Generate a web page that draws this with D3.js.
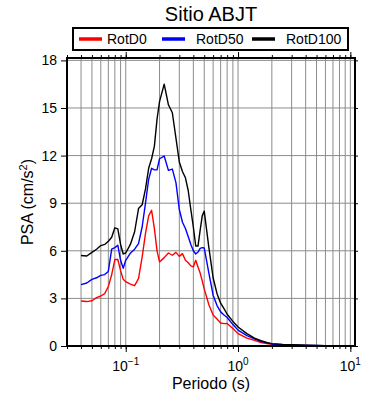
<!DOCTYPE html>
<html>
<head>
<meta charset="utf-8">
<script src="https://cdn.jsdelivr.net/npm/d3@7"></script>
<style>
body { margin: 0; background: #fff; }
text { font-family: "Liberation Sans", Arial, Helvetica, sans-serif; }
</style>
</head>
<body>
<div class="psa-chart"></div>
<script>
// periods (s)
const periods = [0.04, 0.045, 0.05, 0.055, 0.06, 0.065, 0.07, 0.075, 0.08, 0.085, 0.09, 0.095,
    0.1, 0.11, 0.12, 0.13, 0.14, 0.15, 0.16, 0.17, 0.18, 0.19, 0.2, 0.22, 0.24, 0.26, 0.28,
    0.3, 0.32, 0.34, 0.36, 0.38, 0.4, 0.42, 0.44, 0.46, 0.48, 0.5, 0.55, 0.6, 0.65, 0.7,
    0.75, 0.8, 0.9, 1.0, 1.2, 1.4, 1.6, 1.8, 2, 2.5, 3, 4, 5, 6, 7, 8, 10];

const rotD0 = [2.84, 2.8, 2.85, 3.05, 3.15, 3.3, 3.75, 4.5, 5.45, 5.45, 4.75, 4.2,
    4.05, 3.9, 3.8, 4.25, 5.6, 7.1, 8.2, 8.55, 7.4, 6.0, 5.3, 5.57, 5.86, 5.72, 5.9,
    5.65, 5.82, 5.4, 5.25, 5.05, 4.98, 5.4, 4.98, 4.6, 4.1, 3.6, 2.6, 1.95, 1.7, 1.45,
    1.41, 1.42, 1.1, 0.78, 0.5, 0.35, 0.22, 0.15, 0.1, 0.07, 0.05, 0.035, 0.025, 0.02, 0.015, 0.01, 0.007];

const rotD50 = [3.87, 3.97, 4.2, 4.3, 4.45, 4.5, 4.7, 6.1, 6.2, 6.35, 5.4, 4.9,
    5.4, 5.85, 6.1, 6.45, 7.5, 9.0, 10.5, 11.2, 11.1, 11.1, 11.8, 11.97, 11.07, 11.15, 10.3,
    8.6, 7.8, 7.4, 6.9, 6.4, 6.0, 5.8, 5.92, 6.15, 6.2, 6.18, 4.6, 3.2, 2.55, 2.15,
    1.95, 1.8, 1.35, 1.0, 0.65, 0.45, 0.3, 0.2, 0.13, 0.08, 0.06, 0.04, 0.03, 0.02, 0.015, 0.012, 0.008];

const rotD100 = [5.7, 5.67, 5.9, 6.1, 6.33, 6.4, 6.6, 6.85, 7.45, 7.38, 6.4, 5.8,
    5.86, 6.4, 7.2, 8.66, 8.9, 9.9, 11.2, 11.8, 12.6, 14.3, 15.4, 16.5, 15.2, 14.7, 13.1,
    11.6, 11.0, 10.6, 9.8, 8.6, 7.5, 6.3, 6.3, 7.3, 8.2, 8.5, 6.2, 4.3, 3.3, 2.7,
    2.35, 2.0, 1.55, 1.2, 0.78, 0.5, 0.33, 0.22, 0.15, 0.1, 0.08, 0.05, 0.035, 0.025, 0.02, 0.015, 0.01];

const seriesNames = ["RotD0", "RotD50", "RotD100"];
const seriesColors = ["#ff0000", "#0000ff", "#000000"];
const yTicks = [0, 3, 6, 9, 12, 15, 18];
const xMajor = [0.1, 1, 10];
const xMajorExp = ["\u22121", "0", "1"];

function main(){
    const margin = {top: 58, right: 35, bottom: 54, left: 67};
    const width = 390 - margin.left - margin.right;
    const height = 400 - margin.top - margin.bottom;

    const root = d3.select(".psa-chart")
                    .append("svg")
                    .attr("width", 390)
                    .attr("height", 400);
    const svg = root.append("g")
                    .attr("transform", "translate(" + margin.left + "," + margin.top + ")");

    let xScale = d3.scaleLog()
                    .domain([0.03, 11])
                    .range([0, width]);
    let yScale = d3.scaleLinear()
                    .domain([0, 18.15])
                    .range([height, 0]);

    // minor log ticks 2..9 in each decade, inside the domain
    const xMinor = [];
    [0.01, 0.1, 1, 10].forEach(dec => {
        for (let k = 1; k <= 9; k++){
            let v = dec * k;
            if (v >= 0.03 && v <= 11 && k != 1) xMinor.push(v);
        }
    });
    const xAll = xMinor.concat(xMajor);

    //GRID
    svg.append("g").selectAll("line")
        .data(xAll)
        .enter().append("line")
        .attr("x1", d => xScale(d)).attr("x2", d => xScale(d))
        .attr("y1", 0).attr("y2", height)
        .attr("stroke", "#8c8c8c").attr("stroke-width", 1);
    svg.append("g").selectAll("line")
        .data(yTicks)
        .enter().append("line")
        .attr("x1", 0).attr("x2", width)
        .attr("y1", d => yScale(d)).attr("y2", d => yScale(d))
        .attr("stroke", "#8c8c8c").attr("stroke-width", 1);

    //AXES (ticks outside the frame)
    let xBottom = d3.axisBottom(xScale).tickValues(xAll).tickSize(3).tickFormat("");
    let xBottomMaj = d3.axisBottom(xScale).tickValues(xMajor).tickSize(6).tickFormat("");
    let xTop = d3.axisTop(xScale).tickValues(xAll).tickSize(3).tickFormat("");
    let xTopMaj = d3.axisTop(xScale).tickValues(xMajor).tickSize(6).tickFormat("");
    let yLeft = d3.axisLeft(yScale).tickValues(yTicks).tickSize(6).tickPadding(4);
    let yRight = d3.axisRight(yScale).tickValues(yTicks).tickSize(3).tickFormat("");

    svg.append("g").attr("class", "axis").attr("transform", `translate(0, ${height})`).call(xBottom);
    svg.append("g").attr("class", "axis").attr("transform", `translate(0, ${height})`).call(xBottomMaj);
    svg.append("g").attr("class", "axis").call(xTop);
    svg.append("g").attr("class", "axis").call(xTopMaj);
    svg.append("g").attr("class", "axis y-axis").call(yLeft);
    svg.append("g").attr("class", "axis").attr("transform", `translate(${width}, 0)`).call(yRight);

    svg.selectAll(".axis .domain").remove();
    svg.selectAll(".axis line").attr("stroke", "#000").attr("stroke-width", 1);
    svg.selectAll(".y-axis text")
        .attr("font-size", 14)
        .attr("fill", "#000");

    // x labels 10^n
    let xl = svg.append("g").selectAll("text")
        .data(xMajor)
        .enter().append("text")
        .attr("x", (d, i) => xScale(d))
        .attr("y", height + 25)
        .attr("text-anchor", "middle")
        .attr("font-size", 14);
    xl.append("tspan").text("10");
    xl.append("tspan")
        .attr("dy", -6)
        .attr("font-size", 10)
        .text((d, i) => xMajorExp[i]);

    //LINES
    const allSeries = [rotD0, rotD50, rotD100];
    let line = d3.line()
                .x((d, i) => xScale(periods[i]))
                .y(d => yScale(d));
    svg.append("g").selectAll("path")
        .data(allSeries)
        .enter().append("path")
        .attr("d", d => line(d))
        .attr("fill", "none")
        .attr("stroke", (d, i) => seriesColors[i])
        .attr("stroke-width", 1.4)
        .attr("stroke-linejoin", "round");

    //FRAME
    svg.append("rect")
        .attr("x", 0).attr("y", 0)
        .attr("width", width).attr("height", height)
        .attr("fill", "none")
        .attr("stroke", "#000")
        .attr("stroke-width", 2);

    //TITLES
    root.append("text")
        .attr("x", 211).attr("y", 21)
        .attr("text-anchor", "middle")
        .attr("font-size", 20)
        .text("Sitio ABJT");

    root.append("text")
        .attr("x", margin.left + width / 2)
        .attr("y", 389)
        .attr("text-anchor", "middle")
        .attr("font-size", 16)
        .text("Periodo (s)");

    let yt = root.append("text")
        .attr("transform", "translate(33," + (margin.top + height / 2) + ") rotate(-90)")
        .attr("text-anchor", "middle")
        .attr("font-size", 16);
    yt.append("tspan").text("PSA (cm/s");
    yt.append("tspan").attr("dy", -6).attr("font-size", 11).text("2");
    yt.append("tspan").attr("dy", 6).text(")");

    //LEGEND
    const lg = root.append("g");
    lg.append("rect")
        .attr("x", 73).attr("y", 28)
        .attr("width", 275).attr("height", 22)
        .attr("fill", "#fff")
        .attr("stroke", "#000")
        .attr("stroke-width", 2);
    const legX = [79, 162, 252];
    lg.selectAll("line.leg")
        .data(seriesNames)
        .enter().append("line")
        .attr("x1", (d, i) => legX[i]).attr("x2", (d, i) => legX[i] + 23)
        .attr("y1", 39).attr("y2", 39)
        .attr("stroke", (d, i) => seriesColors[i])
        .attr("stroke-width", 3.5);
    lg.selectAll("text")
        .data(seriesNames)
        .enter().append("text")
        .attr("x", (d, i) => legX[i] + 28 + (i == 0 ? 0 : 6))
        .attr("y", 44)
        .attr("font-size", 14)
        .text(d => d);
}

main();
</script>
</body>
</html>
